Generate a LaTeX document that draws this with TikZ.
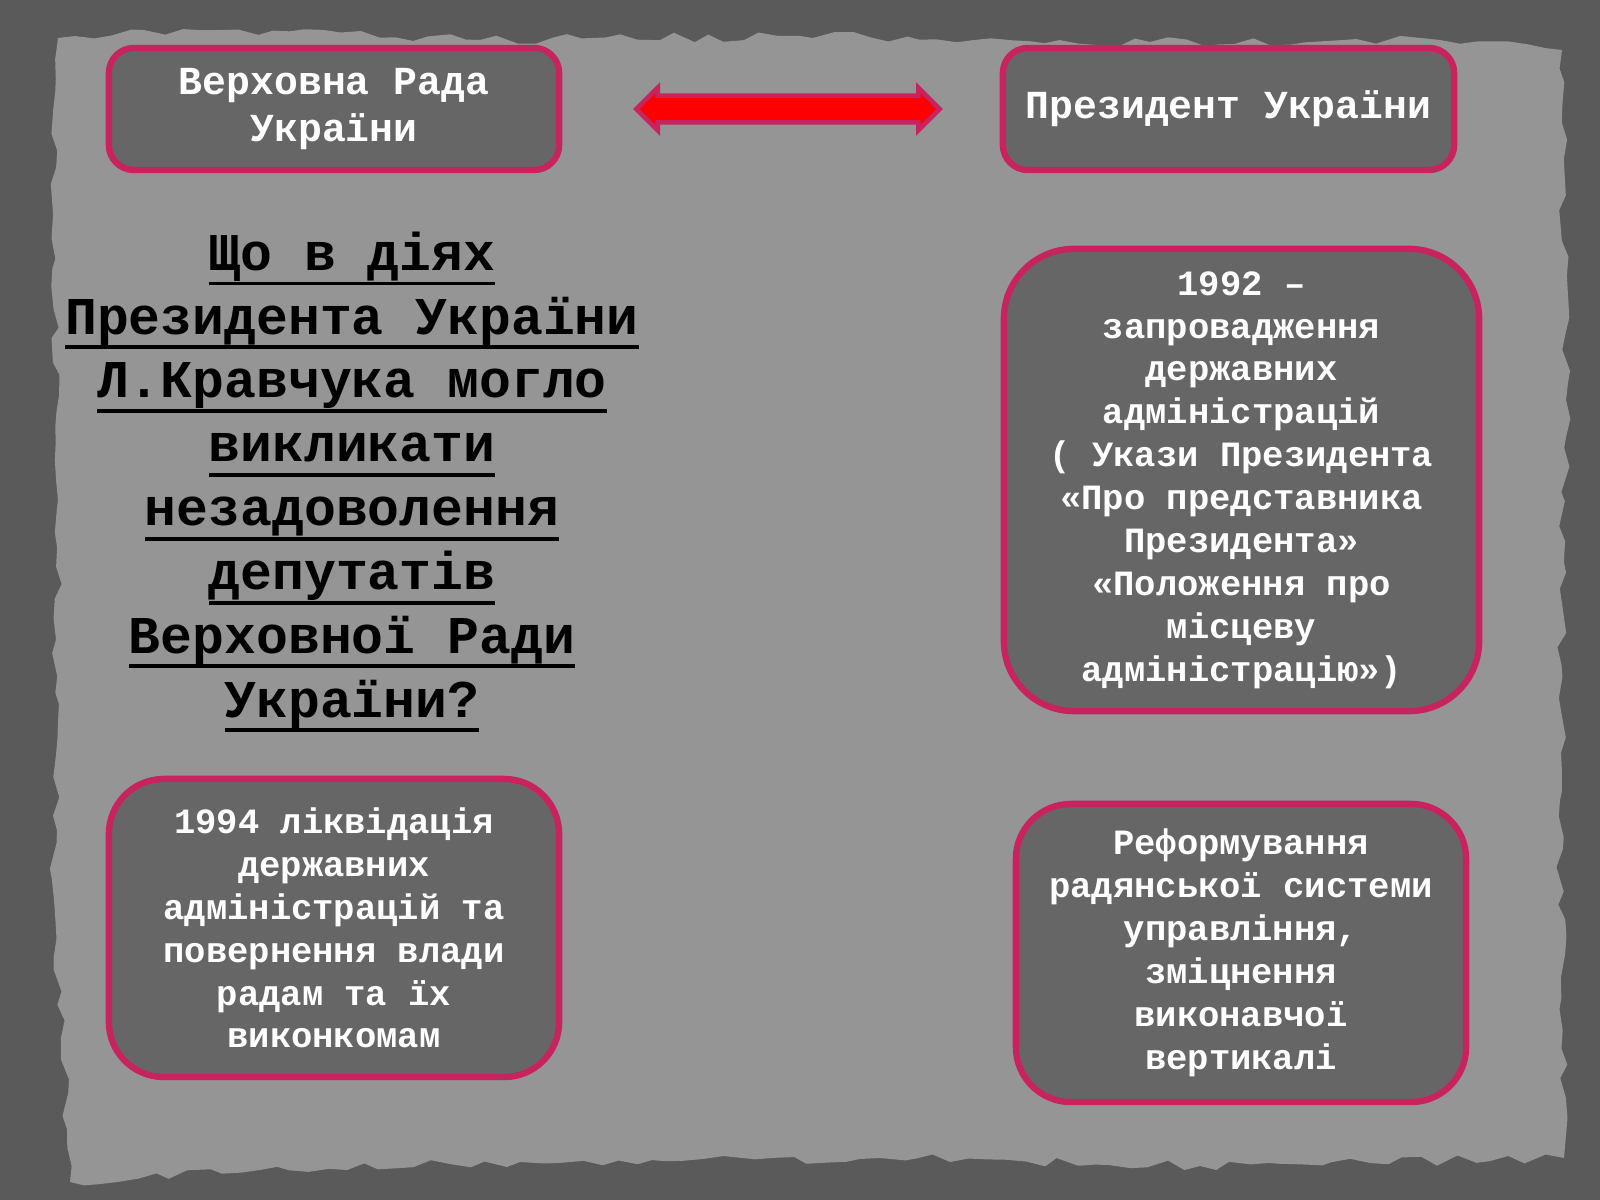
\documentclass[tikz,border=0pt]{standalone}
\usepackage{fontspec}
\setmainfont{Liberation Mono}
\usepackage{xcolor}
\usepackage{tikz}
\usetikzlibrary{shapes}
\usetikzlibrary{shapes.arrows}
\usetikzlibrary{decorations.pathmorphing}
\usetikzlibrary{positioning}

\definecolor{frame}{HTML}{5A5A5A}
\definecolor{paper}{HTML}{959595}
\definecolor{boxfill}{HTML}{666666}
\definecolor{rim}{HTML}{C8235F}

\newcommand{\uln}[1]{\setbox0=\hbox{#1}\rlap{\vrule height -3.2pt depth 4.3pt width \wd0}\box0}

\begin{document}
\begin{tikzpicture}[x=0.01cm,y=0.01cm]
    \useasboundingbox (0,0) rectangle (1600,1200);
    \pgfmathsetseed{7}
    \fill[frame] (0,0) rectangle (1600,1200);
    \fill[paper, decorate, decoration={random steps,segment length=5pt,amplitude=1.4pt}]
        (58,1162) -- (220,1170) -- (480,1160) -- (800,1164) -- (1150,1158) -- (1440,1160)
        -- (1562,1150) -- (1566,800) -- (1560,400) -- (1564,42) -- (1200,34) -- (880,42)
        -- (520,38) -- (260,30) -- (70,18) -- (54,300) -- (58,700) -- (52,1000) -- cycle;
    \begin{scope}[every node/.style={draw=rim,line width=1.8pt,fill=boxfill,text=white,
        align=center,inner sep=0pt,font=\bfseries\fontsize{11.3}{13.4}\selectfont}]
    \node[minimum width=4.5cm,minimum height=1.22cm,rounded corners=0.25cm] (rada) at (334,1091) {Верховна Рада\\України};
    \node[minimum width=4.51cm,minimum height=1.22cm,rounded corners=0.25cm] (prez) at (1228.5,1091) {Президент України};
    \end{scope}
    \begin{scope}[every node/.style={draw=rim,line width=1.8pt,fill=boxfill,text=white,
        align=center,inner sep=0pt,font=\bfseries\fontsize{10.1}{12.2}\selectfont}]
    \node[minimum width=4.75cm,minimum height=4.62cm,rounded corners=0.7cm] (decree) at (1241.5,720) {1992 –\\запровадження\\державних\\адміністрацій\\( Укази Президента\\«Про представника\\Президента»\\«Положення про\\місцеву\\адміністрацію»)};
    \node[minimum width=4.5cm,minimum height=2.98cm,rounded corners=0.55cm] (abolish) at (334,272) {1994 ліквідація\\державних\\адміністрацій та\\повернення влади\\радам та їх\\виконкомам};
    \node[minimum width=4.5cm,minimum height=2.98cm,rounded corners=0.55cm] (reform) at (1241,247) {Реформування\\радянської системи\\управління,\\зміцнення\\виконавчої\\вертикалі};
    \end{scope}
    \node[double arrow,draw=rim,fill=red,line width=1.3pt,minimum height=3.03cm,
        double arrow head extend=0.08cm,double arrow tip angle=90,
        inner xsep=0pt,inner ysep=0.11cm] (link) at (788,1091) {};
    \node[align=center,font=\bfseries\fontsize{15.1}{18.15}\selectfont] (quest) at (352,718) {\uln{Що в діях}\\\uln{Президента України}\\\uln{Л.Кравчука могло}\\\uln{викликати}\\\uln{незадоволення}\\\uln{депутатів}\\\uln{Верховної Ради}\\\uln{України?}};
\end{tikzpicture}
\end{document}
